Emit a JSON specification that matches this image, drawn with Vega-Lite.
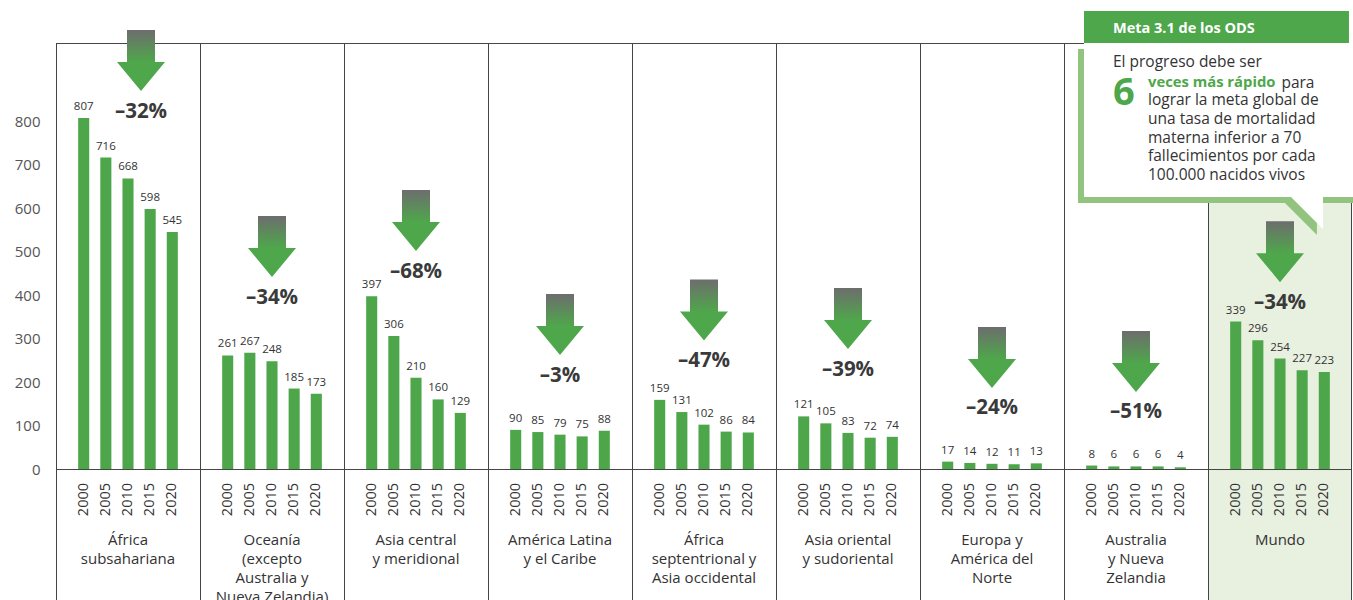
{
  "$schema": "https://vega.github.io/schema/vega-lite/v6.json",
  "width": 1296,
  "height": 600,
  "autosize": {"type": "none"},
  "padding": {"left": 56, "top": 0, "right": 1, "bottom": 0},
  "config": {
    "view": {"stroke": null},
    "font": "Open Sans",
    "text": {"font": "Open Sans"},
    "axisY": {"domain": false, "ticks": false, "grid": false, "labelFont": "Open Sans", "labelFontSize": 15, "labelColor": "#555555", "labelPadding": 16}
  },
  "datasets": {
    "bars": [
      {"region": "África subsahariana", "year": "2000", "value": 807},
      {"region": "África subsahariana", "year": "2005", "value": 716},
      {"region": "África subsahariana", "year": "2010", "value": 668},
      {"region": "África subsahariana", "year": "2015", "value": 598},
      {"region": "África subsahariana", "year": "2020", "value": 545},
      {"region": "Oceanía (excepto Australia y Nueva Zelandia)", "year": "2000", "value": 261},
      {"region": "Oceanía (excepto Australia y Nueva Zelandia)", "year": "2005", "value": 267},
      {"region": "Oceanía (excepto Australia y Nueva Zelandia)", "year": "2010", "value": 248},
      {"region": "Oceanía (excepto Australia y Nueva Zelandia)", "year": "2015", "value": 185},
      {"region": "Oceanía (excepto Australia y Nueva Zelandia)", "year": "2020", "value": 173},
      {"region": "Asia central y meridional", "year": "2000", "value": 397},
      {"region": "Asia central y meridional", "year": "2005", "value": 306},
      {"region": "Asia central y meridional", "year": "2010", "value": 210},
      {"region": "Asia central y meridional", "year": "2015", "value": 160},
      {"region": "Asia central y meridional", "year": "2020", "value": 129},
      {"region": "América Latina y el Caribe", "year": "2000", "value": 90},
      {"region": "América Latina y el Caribe", "year": "2005", "value": 85},
      {"region": "América Latina y el Caribe", "year": "2010", "value": 79},
      {"region": "América Latina y el Caribe", "year": "2015", "value": 75},
      {"region": "América Latina y el Caribe", "year": "2020", "value": 88},
      {"region": "África septentrional y Asia occidental", "year": "2000", "value": 159},
      {"region": "África septentrional y Asia occidental", "year": "2005", "value": 131},
      {"region": "África septentrional y Asia occidental", "year": "2010", "value": 102},
      {"region": "África septentrional y Asia occidental", "year": "2015", "value": 86},
      {"region": "África septentrional y Asia occidental", "year": "2020", "value": 84},
      {"region": "Asia oriental y sudoriental", "year": "2000", "value": 121},
      {"region": "Asia oriental y sudoriental", "year": "2005", "value": 105},
      {"region": "Asia oriental y sudoriental", "year": "2010", "value": 83},
      {"region": "Asia oriental y sudoriental", "year": "2015", "value": 72},
      {"region": "Asia oriental y sudoriental", "year": "2020", "value": 74},
      {"region": "Europa y América del Norte", "year": "2000", "value": 17},
      {"region": "Europa y América del Norte", "year": "2005", "value": 14},
      {"region": "Europa y América del Norte", "year": "2010", "value": 12},
      {"region": "Europa y América del Norte", "year": "2015", "value": 11},
      {"region": "Europa y América del Norte", "year": "2020", "value": 13},
      {"region": "Australia y Nueva Zelandia", "year": "2000", "value": 8},
      {"region": "Australia y Nueva Zelandia", "year": "2005", "value": 6},
      {"region": "Australia y Nueva Zelandia", "year": "2010", "value": 6},
      {"region": "Australia y Nueva Zelandia", "year": "2015", "value": 6},
      {"region": "Australia y Nueva Zelandia", "year": "2020", "value": 4},
      {"region": "Mundo", "year": "2000", "value": 339},
      {"region": "Mundo", "year": "2005", "value": 296},
      {"region": "Mundo", "year": "2010", "value": 254},
      {"region": "Mundo", "year": "2015", "value": 227},
      {"region": "Mundo", "year": "2020", "value": 223}
    ],
    "regions": [
      {"region": "África subsahariana", "label": ["África", "subsahariana"], "pct": "–32%", "arrowY": 939.1},
      {"region": "Oceanía (excepto Australia y Nueva Zelandia)", "label": ["Oceanía", "(excepto", "Australia y", "Nueva Zelandia)"], "pct": "–34%", "arrowY": 511.5},
      {"region": "Asia central y meridional", "label": ["Asia central", "y meridional"], "pct": "–68%", "arrowY": 571.3},
      {"region": "América Latina y el Caribe", "label": ["América Latina", "y el Caribe"], "pct": "–3%", "arrowY": 332.2},
      {"region": "África septentrional y Asia occidental", "label": ["África", "septentrional y", "Asia occidental"], "pct": "–47%", "arrowY": 365.6},
      {"region": "Asia oriental y sudoriental", "label": ["Asia oriental", "y sudoriental"], "pct": "–39%", "arrowY": 346.0},
      {"region": "Europa y América del Norte", "label": ["Europa y", "América del", "Norte"], "pct": "–24%", "arrowY": 256.4},
      {"region": "Australia y Nueva Zelandia", "label": ["Australia", "y Nueva", "Zelandia"], "pct": "–51%", "arrowY": 247.2},
      {"region": "Mundo", "label": ["Mundo"], "pct": "–34%", "arrowY": 499.6}
    ]
  },
  "layer": [
    {
      "data": {"values": [{}]},
      "mark": {"type": "rect", "color": "#e8f0e0"},
      "encoding": {
        "x": {"datum": "Mundo", "type": "nominal", "axis": null},
        "y": {"datum": 979.3, "type": "quantitative", "axis": {"values": [0, 100, 200, 300, 400, 500, 600, 700, 800], "title": null}},
        "y2": {"datum": -301.1}
      }
    },
    {
      "data": {"name": "regions"},
      "mark": {"type": "rule", "color": "#444444", "strokeWidth": 1, "xOffset": 0.5},
      "encoding": {
        "x": {"field": "region", "type": "nominal", "bandPosition": 0, "axis": null},
        "y": {"datum": 979.3, "type": "quantitative", "axis": {"values": [0, 100, 200, 300, 400, 500, 600, 700, 800], "title": null}},
        "y2": {"datum": -301.1}
      }
    },
    {
      "data": {"values": [{}]},
      "mark": {"type": "rule", "color": "#444444", "strokeWidth": 1, "xOffset": -0.5},
      "encoding": {
        "x": {"datum": "Mundo", "type": "nominal", "bandPosition": 1, "axis": null},
        "y": {"datum": 979.3, "type": "quantitative", "axis": {"values": [0, 100, 200, 300, 400, 500, 600, 700, 800], "title": null}},
        "y2": {"datum": -301.1}
      }
    },
    {
      "data": {"values": [{}]},
      "mark": {"type": "rule", "color": "#444444", "strokeWidth": 1, "yOffset": 0.5},
      "encoding": {
        "y": {"datum": 979.3, "type": "quantitative", "axis": {"values": [0, 100, 200, 300, 400, 500, 600, 700, 800], "title": null}}
      }
    },
    {
      "data": {"values": [{}]},
      "mark": {"type": "rule", "color": "#444444", "strokeWidth": 1, "yOffset": 0.5},
      "encoding": {
        "y": {"datum": 0, "type": "quantitative", "axis": {"values": [0, 100, 200, 300, 400, 500, 600, 700, 800], "title": null}}
      }
    },
    {
      "data": {"name": "bars"},
      "mark": {"type": "bar", "color": "#4da74a"},
      "encoding": {
        "x": {"field": "region", "type": "nominal", "axis": null, "sort": null,
              "scale": {"domain": ["África subsahariana", "Oceanía (excepto Australia y Nueva Zelandia)", "Asia central y meridional", "América Latina y el Caribe", "África septentrional y Asia occidental", "Asia oriental y sudoriental", "Europa y América del Norte", "Australia y Nueva Zelandia", "Mundo"], "paddingInner": 0, "paddingOuter": 0}},
        "xOffset": {"field": "year", "type": "nominal", "scale": {"paddingInner": 0.5, "paddingOuter": 1.02}},
        "y": {"field": "value", "type": "quantitative",
              "scale": {"domain": [-301.1, 1078.2], "nice": false, "zero": false},
              "axis": {"values": [0, 100, 200, 300, 400, 500, 600, 700, 800], "title": null}},
        "y2": {"datum": 0}
      }
    },
    {
      "data": {"name": "bars"},
      "mark": {"type": "text", "fontSize": 11.5, "color": "#333333", "baseline": "alphabetic", "dy": -8},
      "encoding": {
        "x": {"field": "region", "type": "nominal", "axis": null},
        "xOffset": {"field": "year", "type": "nominal"},
        "y": {"field": "value", "type": "quantitative", "axis": {"values": [0, 100, 200, 300, 400, 500, 600, 700, 800], "title": null}},
        "text": {"field": "value", "type": "quantitative"}
      }
    },
    {
      "data": {"name": "bars"},
      "mark": {"type": "text", "fontSize": 14.5, "color": "#333333", "angle": 270, "align": "right", "baseline": "middle"},
      "encoding": {
        "x": {"field": "region", "type": "nominal", "axis": null},
        "xOffset": {"field": "year", "type": "nominal"},
        "y": {"datum": -32.1, "type": "quantitative", "axis": {"values": [0, 100, 200, 300, 400, 500, 600, 700, 800], "title": null}},
        "text": {"field": "year", "type": "nominal"}
      }
    },
    {
      "data": {"name": "regions"},
      "mark": {"type": "text", "fontSize": 15, "color": "#333333", "align": "center", "baseline": "top", "lineHeight": 18.8},
      "encoding": {
        "x": {"field": "region", "type": "nominal", "axis": null},
        "y": {"datum": -148.2, "type": "quantitative", "axis": {"values": [0, 100, 200, 300, 400, 500, 600, 700, 800], "title": null}},
        "text": {"field": "label"},
        "fontWeight": {"condition": {"test": "datum.region === 'Mundo'", "value": "bold"}, "value": "normal"}
      }
    },
    {
      "data": {"name": "regions"},
      "mark": {"type": "point", "shape": "M-0.459,-1L0.459,-1L0.459,0.05L0.787,0.05L0,1L-0.787,0.05L-0.459,0.05Z", "size": 3721, "filled": true, "opacity": 1, "strokeWidth": 0,
               "xOffset": {"expr": "datum.region === 'África subsahariana' ? 13 : 0"},
               "fill": {"gradient": "linear", "x1": 0, "y1": 0, "x2": 0, "y2": 1, "stops": [{"offset": 0, "color": "#6d6d6d"}, {"offset": 0.52, "color": "#4fa64b"}, {"offset": 1, "color": "#4da84a"}]}},
      "encoding": {
        "x": {"field": "region", "type": "nominal", "axis": null},
        "y": {"field": "arrowY", "type": "quantitative", "axis": {"values": [0, 100, 200, 300, 400, 500, 600, 700, 800], "title": null}}
      }
    },
    {
      "data": {"name": "regions"},
      "mark": {"type": "text", "fontSize": 20.5, "fontWeight": "bold", "color": "#3a3a3a", "align": "center", "baseline": "alphabetic", "dy": 57,
               "dx": {"expr": "datum.region === 'África subsahariana' ? 13 : 0"}},
      "encoding": {
        "x": {"field": "region", "type": "nominal", "axis": null},
        "y": {"field": "arrowY", "type": "quantitative", "axis": {"values": [0, 100, 200, 300, 400, 500, 600, 700, 800], "title": null}},
        "text": {"field": "pct"}
      }
    },
    {
      "data": {"values": [{}]},
      "mark": {"type": "rect", "color": "#93c47f"},
      "encoding": {
        "x": {"datum": "Mundo", "type": "nominal", "bandPosition": -0.9028, "axis": null},
        "x2": {"datum": "Mundo", "bandPosition": 1.007},
        "y": {"datum": 965.6, "type": "quantitative", "axis": {"values": [0, 100, 200, 300, 400, 500, 600, 700, 800], "title": null}},
        "y2": {"datum": 611.5}
      }
    },
    {
      "data": {"values": [{}]},
      "mark": {"type": "point", "shape": "M-1,-1L1,-1L1,1Z", "size": 1089, "filled": true, "opacity": 1, "strokeWidth": 0, "fill": "#93c47f"},
      "encoding": {
        "x": {"datum": "Mundo", "type": "nominal", "bandPosition": 0.642, "axis": null},
        "y": {"datum": 575.9, "type": "quantitative", "axis": {"values": [0, 100, 200, 300, 400, 500, 600, 700, 800], "title": null}}
      }
    },
    {
      "data": {"values": [{}]},
      "mark": {"type": "rect", "color": "#ffffff"},
      "encoding": {
        "x": {"datum": "Mundo", "type": "nominal", "bandPosition": -0.8611, "axis": null},
        "x2": {"datum": "Mundo", "bandPosition": 1.007},
        "y": {"datum": 979.3, "type": "quantitative", "axis": {"values": [0, 100, 200, 300, 400, 500, 600, 700, 800], "title": null}},
        "y2": {"datum": 625.3}
      }
    },
    {
      "data": {"values": [{}]},
      "mark": {"type": "point", "shape": "M-1,-1L1,-1L1,1Z", "size": 1089, "filled": true, "opacity": 1, "strokeWidth": 0, "fill": "#ffffff"},
      "encoding": {
        "x": {"datum": "Mundo", "type": "nominal", "bandPosition": 0.684, "axis": null},
        "y": {"datum": 589.7, "type": "quantitative", "axis": {"values": [0, 100, 200, 300, 400, 500, 600, 700, 800], "title": null}}
      }
    },
    {
      "data": {"values": [{}]},
      "mark": {"type": "rect", "color": "#4ea74b"},
      "encoding": {
        "x": {"datum": "Mundo", "type": "nominal", "bandPosition": -0.8611, "axis": null},
        "x2": {"datum": "Mundo", "bandPosition": 0.979},
        "y": {"datum": 1052.9, "type": "quantitative", "axis": {"values": [0, 100, 200, 300, 400, 500, 600, 700, 800], "title": null}},
        "y2": {"datum": 979.3}
      }
    },
    {
      "data": {"values": [{}]},
      "mark": {"type": "text", "text": "Meta 3.1 de los ODS", "fontSize": 14.5, "fontWeight": "bold", "color": "#ffffff", "align": "left", "baseline": "middle"},
      "encoding": {
        "x": {"datum": "Mundo", "type": "nominal", "bandPosition": -0.6597, "axis": null},
        "y": {"datum": 1011.5, "type": "quantitative", "axis": {"values": [0, 100, 200, 300, 400, 500, 600, 700, 800], "title": null}}
      }
    },
    {
      "data": {"values": [{}]},
      "mark": {"type": "text", "text": "El progreso debe ser", "fontSize": 15.5, "color": "#333333", "align": "left", "baseline": "middle"},
      "encoding": {
        "x": {"datum": "Mundo", "type": "nominal", "bandPosition": -0.6597, "axis": null},
        "y": {"datum": 935.7, "type": "quantitative", "axis": {"values": [0, 100, 200, 300, 400, 500, 600, 700, 800], "title": null}}
      }
    },
    {
      "data": {"values": [{}]},
      "mark": {"type": "text", "text": "6", "fontSize": 38, "fontWeight": "bold", "color": "#4ea74b", "align": "left", "baseline": "alphabetic"},
      "encoding": {
        "x": {"datum": "Mundo", "type": "nominal", "bandPosition": -0.6597, "axis": null},
        "y": {"datum": 836.8, "type": "quantitative", "axis": {"values": [0, 100, 200, 300, 400, 500, 600, 700, 800], "title": null}}
      }
    },
    {
      "data": {"values": [{}]},
      "mark": {"type": "text", "text": "veces más rápido", "fontSize": 14.8, "fontWeight": "bold", "color": "#4ea74b", "align": "left", "baseline": "middle"},
      "encoding": {
        "x": {"datum": "Mundo", "type": "nominal", "bandPosition": -0.4167, "axis": null},
        "y": {"datum": 887.4, "type": "quantitative", "axis": {"values": [0, 100, 200, 300, 400, 500, 600, 700, 800], "title": null}}
      }
    },
    {
      "data": {"values": [{}]},
      "mark": {"type": "text", "text": "para", "fontSize": 15.5, "color": "#333333", "align": "left", "baseline": "middle"},
      "encoding": {
        "x": {"datum": "Mundo", "type": "nominal", "bandPosition": 0.51, "axis": null},
        "y": {"datum": 887.4, "type": "quantitative", "axis": {"values": [0, 100, 200, 300, 400, 500, 600, 700, 800], "title": null}}
      }
    },
    {
      "data": {"values": [{}]},
      "mark": {"type": "text", "text": ["lograr la meta global de", "una tasa de mortalidad", "materna inferior a 70", "fallecimientos por cada", "100.000 nacidos vivos"], "fontSize": 15.5, "color": "#333333", "align": "left", "baseline": "middle", "lineHeight": 18.75},
      "encoding": {
        "x": {"datum": "Mundo", "type": "nominal", "bandPosition": -0.4167, "axis": null},
        "y": {"datum": 848.3, "type": "quantitative", "axis": {"values": [0, 100, 200, 300, 400, 500, 600, 700, 800], "title": null}}
      }
    }
  ]
}
